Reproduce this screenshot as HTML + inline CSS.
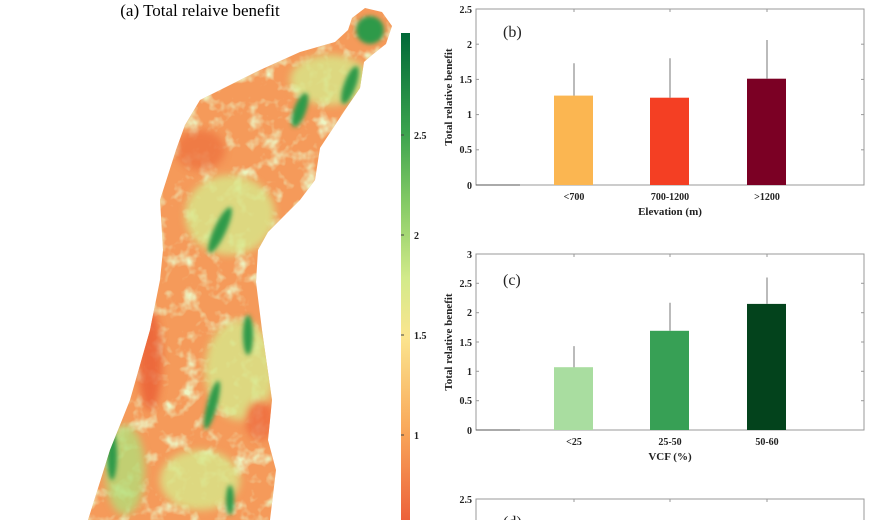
<!DOCTYPE html>
<html><head><meta charset="utf-8"><style>
html,body{margin:0;padding:0;background:#fff;}
svg{display:block;font-family:"Liberation Serif",serif;}
</style></head><body>
<svg width="870" height="520" viewBox="0 0 870 520" xmlns="http://www.w3.org/2000/svg">
<defs>
<linearGradient id="cb" x1="0" y1="0" x2="0" y2="1">
<stop offset="0" stop-color="#006837"/>
<stop offset="0.2" stop-color="#3aa24e"/>
<stop offset="0.35" stop-color="#86cb66"/>
<stop offset="0.5" stop-color="#d2ea8a"/>
<stop offset="0.62" stop-color="#fbe58f"/>
<stop offset="0.8" stop-color="#f9ab5c"/>
<stop offset="1" stop-color="#ec5f3a"/>
</linearGradient>
<filter id="bl"><feGaussianBlur stdDeviation="4"/></filter>
<filter id="bl2"><feGaussianBlur stdDeviation="2"/></filter>
<filter id="tx" x="0" y="0" width="100%" height="100%">
<feTurbulence type="fractalNoise" baseFrequency="0.06" numOctaves="3" seed="4"/>
<feColorMatrix type="matrix" values="0 0 0 0 0.85  0 0 0 0 0.91  0 0 0 0 0.55  3 0 0 0 -1.5"/>
</filter>
<clipPath id="mc"><path d="M352,18 L365,8 L382,12 L392,26 L386,44 L372,55 L364,62 L360,88 L345,110 L320,148 L315,180 L300,200 L268,232 L258,250 L256,282 L262,330 L272,400 L268,440 L276,470 L270,520 L88,520 L110,450 L130,400 L150,330 L160,280 L163,250 L160,200 L176,150 L185,125 L200,100 L260,70 L300,52 L335,42 L348,30 Z"/></clipPath>
</defs>
<text x="200" y="16" font-size="17" text-anchor="middle">(a) Total relaive benefit</text>
<g clip-path="url(#mc)">
<rect x="0" y="0" width="420" height="520" fill="#f59a5a"/>
<rect x="0" y="0" width="420" height="520" filter="url(#tx)"/>
<g filter="url(#bl)" opacity="0.8">
<ellipse cx="330" cy="80" rx="40" ry="25" fill="#d8e88a"/>
<ellipse cx="230" cy="215" rx="45" ry="40" fill="#d8e88a"/>
<ellipse cx="240" cy="370" rx="35" ry="50" fill="#d8e88a"/>
<ellipse cx="125" cy="470" rx="20" ry="45" fill="#b5dc78"/>
<ellipse cx="200" cy="480" rx="40" ry="30" fill="#d8e88a"/>
<ellipse cx="150" cy="360" rx="12" ry="50" fill="#ea5d36"/>
<ellipse cx="200" cy="150" rx="25" ry="20" fill="#ee7340"/>
<ellipse cx="260" cy="420" rx="15" ry="20" fill="#ef6a3c"/>
</g>
<g filter="url(#bl2)" fill="#2e9a4a">
<ellipse cx="370" cy="30" rx="14" ry="14"/>
<ellipse cx="350" cy="85" rx="6" ry="20" transform="rotate(20 350 85)"/>
<ellipse cx="300" cy="110" rx="6" ry="18" transform="rotate(20 300 110)"/>
<ellipse cx="220" cy="230" rx="6" ry="25" transform="rotate(25 220 230)"/>
<ellipse cx="248" cy="335" rx="5" ry="20"/>
<ellipse cx="212" cy="405" rx="5" ry="25" transform="rotate(15 212 405)"/>
<ellipse cx="112" cy="455" rx="5" ry="25"/>
<ellipse cx="230" cy="500" rx="4" ry="15"/>
</g>
</g>
<rect x="401" y="33" width="9" height="490" fill="url(#cb)"/>
<g font-size="10" font-weight="bold" fill="#222">
<line x1="401" y1="135" x2="404" y2="135" stroke="#444"/><text x="414" y="139">2.5</text>
<line x1="401" y1="235" x2="404" y2="235" stroke="#444"/><text x="414" y="239">2</text>
<line x1="401" y1="335" x2="404" y2="335" stroke="#444"/><text x="414" y="339">1.5</text>
<line x1="401" y1="435" x2="404" y2="435" stroke="#444"/><text x="414" y="439">1</text>
</g>

<g font-size="10" font-weight="bold" fill="#222">
<rect x="476" y="9" width="388" height="176" fill="none" stroke="#999"/>
<g stroke="#999">
<line x1="574" y1="9" x2="574" y2="12"/><line x1="670" y1="9" x2="670" y2="12"/><line x1="767" y1="9" x2="767" y2="12"/>
<line x1="574" y1="185" x2="574" y2="182"/><line x1="670" y1="185" x2="670" y2="182"/><line x1="767" y1="185" x2="767" y2="182"/>
<line x1="476" y1="149.8" x2="479" y2="149.8"/><line x1="476" y1="114.6" x2="479" y2="114.6"/><line x1="476" y1="79.4" x2="479" y2="79.4"/><line x1="476" y1="44.2" x2="479" y2="44.2"/>
<line x1="864" y1="149.8" x2="861" y2="149.8"/><line x1="864" y1="114.6" x2="861" y2="114.6"/><line x1="864" y1="79.4" x2="861" y2="79.4"/><line x1="864" y1="44.2" x2="861" y2="44.2"/>
</g>
<line x1="476" y1="185" x2="520" y2="185" stroke="#555"/>
<g text-anchor="end">
<text x="472" y="189">0</text><text x="472" y="153">0.5</text><text x="472" y="118">1</text><text x="472" y="83">1.5</text><text x="472" y="48">2</text><text x="472" y="13">2.5</text>
</g>
<rect x="554" y="95.6" width="39" height="89.4" fill="#fbb651"/>
<rect x="650" y="97.7" width="39" height="87.3" fill="#f43f23"/>
<rect x="747" y="78.7" width="39" height="106.3" fill="#7b0024"/>
<g stroke="#777"><line x1="574" y1="95.6" x2="574" y2="63.2"/><line x1="670" y1="97.7" x2="670" y2="58.3"/><line x1="767" y1="78.7" x2="767" y2="40"/></g>
<g text-anchor="middle">
<text x="574" y="200">&lt;700</text><text x="670" y="200">700-1200</text><text x="767" y="200">&gt;1200</text>
<text x="670" y="215" font-size="11">Elevation (m)</text>
</g>
<text x="503" y="37" font-size="16" font-weight="normal">(b)</text>
<text transform="translate(452 97) rotate(-90)" text-anchor="middle" font-size="11">Total relative benefit</text>
</g>

<g font-size="10" font-weight="bold" fill="#222">
<rect x="476" y="254" width="388" height="176" fill="none" stroke="#999"/>
<g stroke="#999">
<line x1="574" y1="254" x2="574" y2="257"/><line x1="670" y1="254" x2="670" y2="257"/><line x1="767" y1="254" x2="767" y2="257"/>
<line x1="476" y1="400.7" x2="479" y2="400.7"/><line x1="476" y1="371.3" x2="479" y2="371.3"/><line x1="476" y1="342" x2="479" y2="342"/><line x1="476" y1="312.7" x2="479" y2="312.7"/><line x1="476" y1="283.3" x2="479" y2="283.3"/>
<line x1="864" y1="400.7" x2="861" y2="400.7"/><line x1="864" y1="371.3" x2="861" y2="371.3"/><line x1="864" y1="342" x2="861" y2="342"/><line x1="864" y1="312.7" x2="861" y2="312.7"/><line x1="864" y1="283.3" x2="861" y2="283.3"/>
</g>
<line x1="476" y1="430" x2="520" y2="430" stroke="#555"/>
<g text-anchor="end">
<text x="472" y="434">0</text><text x="472" y="404">0.5</text><text x="472" y="375">1</text><text x="472" y="346">1.5</text><text x="472" y="316">2</text><text x="472" y="287">2.5</text><text x="472" y="258">3</text>
</g>
<rect x="554" y="367.2" width="39" height="62.8" fill="#a9dda0"/>
<rect x="650" y="330.8" width="39" height="99.2" fill="#37a055"/>
<rect x="747" y="303.9" width="39" height="126.1" fill="#03431c"/>
<g stroke="#777"><line x1="574" y1="367.2" x2="574" y2="346.1"/><line x1="670" y1="330.8" x2="670" y2="302.7"/><line x1="767" y1="303.9" x2="767" y2="277.5"/></g>
<g text-anchor="middle">
<text x="574" y="445">&lt;25</text><text x="670" y="445">25-50</text><text x="767" y="445">50-60</text>
<text x="670" y="460" font-size="11">VCF (%)</text>
</g>
<text x="503" y="285" font-size="16" font-weight="normal">(c)</text>
<text transform="translate(452 342) rotate(-90)" text-anchor="middle" font-size="11">Total relative benefit</text>
</g>

<g font-size="10" font-weight="bold" fill="#222">
<rect x="476" y="499" width="388" height="40" fill="none" stroke="#999"/>
<g stroke="#999"><line x1="574" y1="499" x2="574" y2="502"/><line x1="670" y1="499" x2="670" y2="502"/><line x1="767" y1="499" x2="767" y2="502"/></g>
<text x="472" y="503" text-anchor="end">2.5</text>
<text x="503" y="527" font-size="16" font-weight="normal">(d)</text>
</g>
</svg>
</body></html>
